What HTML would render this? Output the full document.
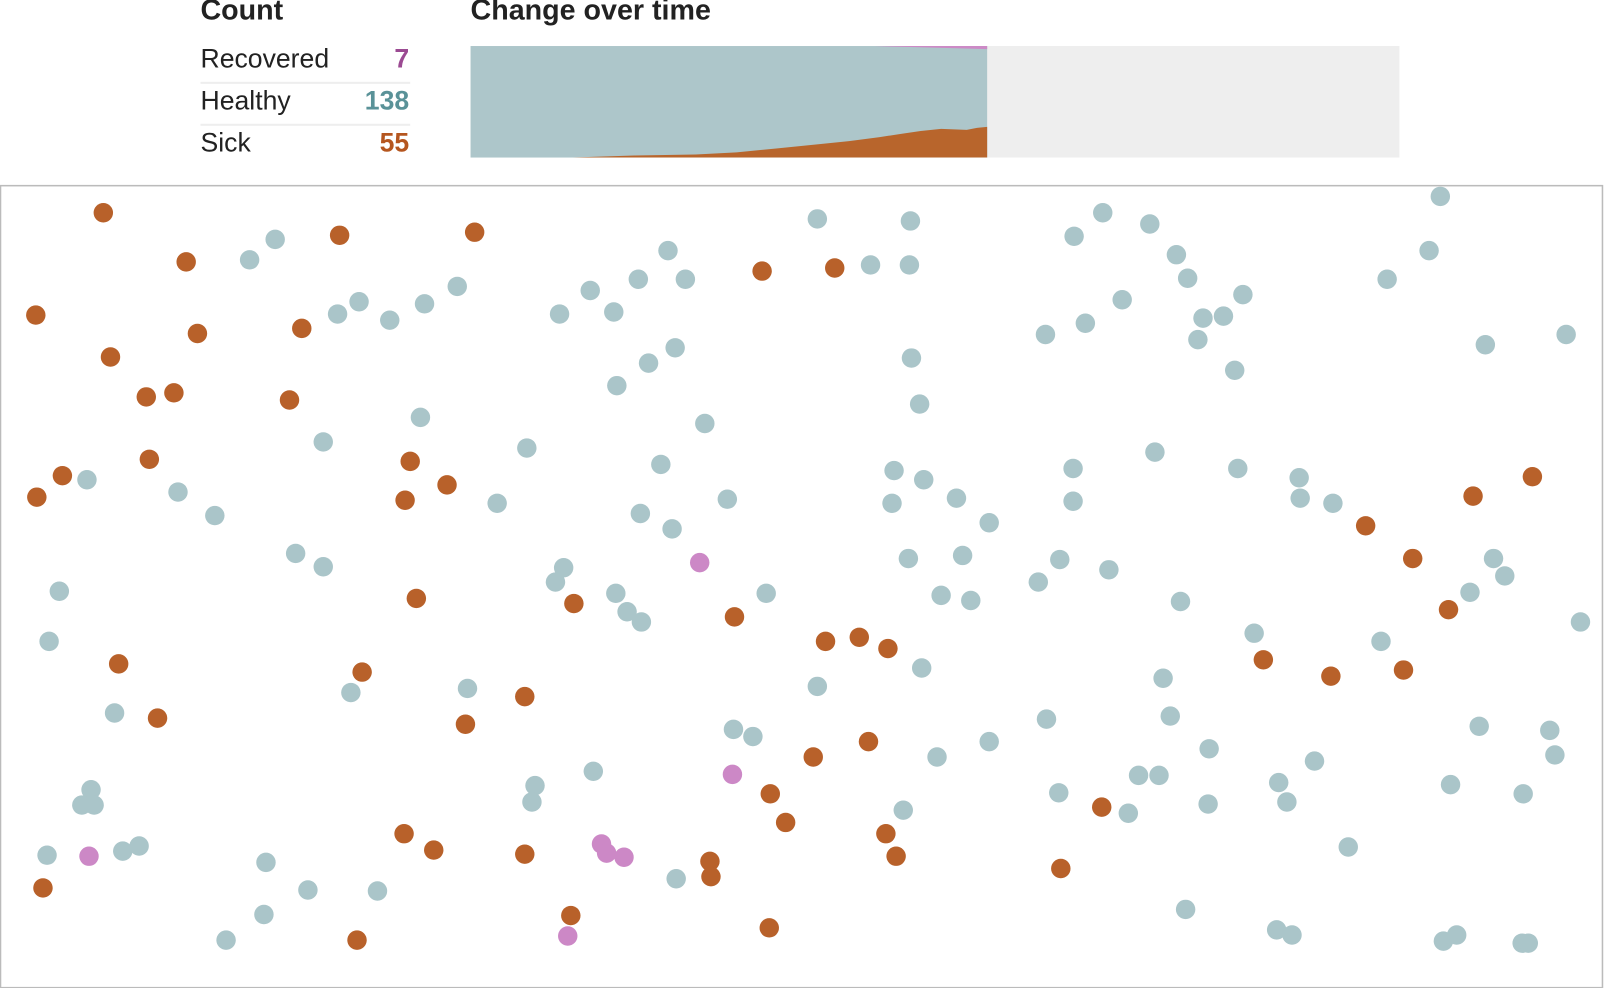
<!DOCTYPE html>
<html><head><meta charset="utf-8"><style>
html,body{margin:0;padding:0;background:#fff;overflow:hidden;width:1604px;height:988px}
#w{position:absolute;left:0;top:0;width:1568px;height:966px;transform:scale(1.02296);transform-origin:0 0;font-family:"Liberation Sans Narrow","Liberation Sans",sans-serif;color:#222}
.h{position:absolute;top:-6px;font-size:28px;font-weight:bold}
.row{position:absolute;left:196px;width:204px;height:40px;font-size:26px}
.row span{position:absolute;left:0;top:0}
.row b{position:absolute;right:0;top:0}
.sep{position:absolute;left:196px;width:205px;height:2px;background:#eee}
</style></head><body><div id="w">
<div class="h" style="left:196px">Count</div>
<div class="h" style="left:460px">Change over time</div>
<div class="row" style="top:42px"><span>Recovered</span><b style="color:#9b4a92">7</b></div>
<div class="sep" style="top:80px"></div>
<div class="row" style="top:83px"><span>Healthy</span><b style="color:#5a9298">138</b></div>
<div class="sep" style="top:121px"></div>
<div class="row" style="top:124px"><span>Sick</span><b style="color:#b5561f">55</b></div>
<svg style="position:absolute;left:0;top:0" width="1568" height="966">
<rect x="460" y="45" width="908" height="109" fill="#eeeeee"/>
<rect x="460" y="45" width="505" height="109" fill="#adc6ca"/>
<path d="M560,154 L620,152 L680,151 L720,149 L760,145 L800,141 L830,138 L860,134 L880,131 L900,128 L920,126 L945,127 L955,125 L965,124 L965,154 Z" fill="#b8652c"/>
<path d="M855,45 L965,45 L965,48 L930,47 L890,46 Z" fill="#cc8ac6"/>
<rect x="0.5" y="181.5" width="1566" height="784" fill="none" stroke="#bbb" stroke-width="1.5"/>
<g id="d"></g>
</svg>
</div>
<script>
var S=[101,208,182,256,332,230,464,227,35,308,193,326,295,321,108,349,143,388,170,384,283,391,146,449,61,465,36,486,401,451,437,474,396,489,745,265,816,262,407,585,561,590,718,603,116,649,354,657,154,702,513,681,455,708,807,627,840,623,868,634,849,725,795,740,753,776,768,804,866,815,876,837,395,815,424,831,513,835,694,842,695,857,42,868,558,895,752,907,349,919,1037,849,1077,789,1235,645,1301,661,1372,655,1416,596,1381,546,1335,514,1440,485,1498,466];
var R=[684,550,716,757,87,837,588,825,593,834,610,838,555,915];
var H=[244,254,269,234,330,307,351,295,381,313,415,297,447,280,547,307,577,284,600,305,624,273,653,245,670,273,799,214,890,216,851,259,889,259,634,355,660,340,603,377,891,350,899,395,689,414,411,408,316,432,515,438,85,469,174,481,210,504,486,492,646,454,626,502,657,517,711,488,874,460,903,469,872,492,935,487,967,511,289,541,316,554,551,555,543,569,58,578,602,580,613,598,627,608,749,580,888,546,941,543,920,582,949,587,48,627,901,653,799,671,343,677,457,673,112,697,717,713,736,720,916,740,967,725,580,754,523,768,520,784,89,772,80,787,92,787,46,836,120,832,136,827,260,843,301,870,369,871,661,859,883,792,221,919,258,894,1050,231,1078,208,1124,219,1150,249,1161,272,1097,293,1022,327,1061,316,1176,311,1196,309,1215,288,1171,332,1207,362,1408,192,1397,245,1356,273,1452,337,1531,327,1129,442,1049,458,1049,490,1210,458,1270,467,1271,487,1303,492,1036,547,1084,557,1015,569,1154,588,1460,546,1471,563,1437,579,1545,608,1226,619,1350,627,1137,663,1023,703,1144,700,1182,732,1446,710,1515,714,1520,738,1285,744,1113,758,1133,758,1250,765,1258,784,1418,767,1489,776,1035,775,1103,795,1181,786,1318,828,1159,889,1248,909,1263,914,1411,920,1424,914,1488,922,1494,922];
var g=document.getElementById('d'),s='';
function add(a,c){for(var i=0;i<a.length;i+=2)s+='<circle cx="'+a[i]+'" cy="'+a[i+1]+'" r="9.5" fill="'+c+'"/>';}
add(H,'#aac5c9');add(S,'#b8612a');add(R,'#cc88c6');
g.innerHTML=s;
</script>
</body></html>
